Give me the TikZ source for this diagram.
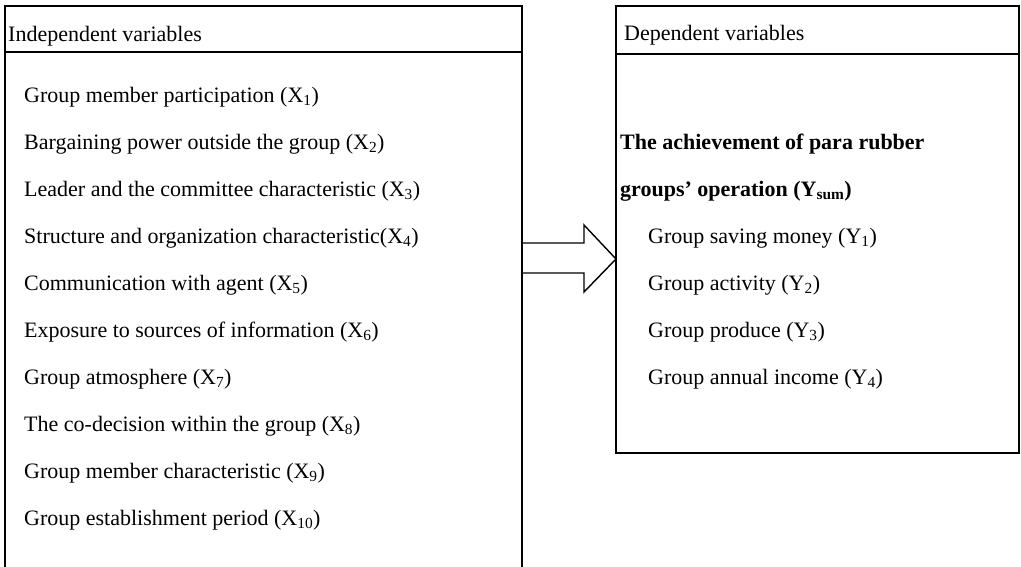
\documentclass[tikz,border=0pt]{standalone}
\usepackage{fontspec}
\setmainfont{Liberation Serif}
\usepackage{tikz}

\tikzset{
  item/.style={right, inner sep=0pt, font=\fontsize{22}{24}\selectfont},
  boxline/.style={line width=1.1pt},
}

\begin{document}
\begin{tikzpicture}[x=1pt, y=-1pt]
	  \useasboundingbox (0,0) rectangle (1021,567);
	  % independent box, open at the bottom
	  \draw [boxline] (5,567) -- (5,6) -- (522,6) -- (522,567);
	  \draw [boxline] (5,52) -- (522,52);
	  \node [item] (indep) at (8,36) {Independent variables};
	  \node [item] (x1) at (24,97) {Group member participation (X\textsubscript{1})};
	  \node [item] (x2) at (24,144) {Bargaining power outside the group (X\textsubscript{2})};
	  \node [item] (x3) at (24,191) {Leader and the committee characteristic (X\textsubscript{3})};
	  \node [item] (x4) at (24,238) {Structure and organization characteristic(X\textsubscript{4})};
	  \node [item] (x5) at (24,285) {Communication with agent (X\textsubscript{5})};
	  \node [item] (x6) at (24,332) {Exposure to sources of information (X\textsubscript{6})};
	  \node [item] (x7) at (24,379) {Group atmosphere (X\textsubscript{7})};
	  \node [item] (x8) at (24,426) {The co-decision within the group (X\textsubscript{8})};
	  \node [item] (x9) at (24,473) {Group member characteristic (X\textsubscript{9})};
	  \node [item] (x10) at (24,520) {Group establishment period (X\textsubscript{10})};
	  % dependent box
	  \draw [boxline] (616,6) rectangle (1019,453);
	  \draw [boxline] (616,54) -- (1019,54);
	  \node [item] (dep) at (624,35) {Dependent variables};
	  \node [item, font=\fontsize{22}{24}\selectfont\bfseries] (ysum1) at (620,144) {The achievement of para rubber};
	  \node [item, font=\fontsize{22}{24}\selectfont\bfseries] (ysum2) at (620,191) {groups' operation (Y\textsubscript{sum})};
	  \node [item] (y1) at (648,238) {Group saving money (Y\textsubscript{1})};
	  \node [item] (y2) at (648,285) {Group activity (Y\textsubscript{2})};
	  \node [item] (y3) at (648,332) {Group produce (Y\textsubscript{3})};
	  \node [item] (y4) at (648,379) {Group annual income (Y\textsubscript{4})};
	  % block arrow
	  \coordinate (tail) at (522,258);
	  \coordinate (tip) at (616,259);
	  \draw [line width=1.4pt, line join=miter] (tail) ++(0,-15) -- ++(62,0) -- ++(0,-18) -- (tip)
	        -- ++(-32,33) -- ++(0,-19) -- ++(-62,0) -- cycle;
	 \end{tikzpicture}
\end{document}
